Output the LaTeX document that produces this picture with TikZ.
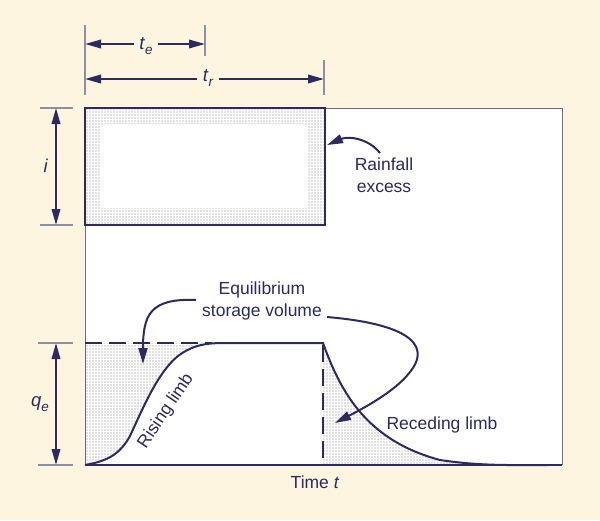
\documentclass[tikz,border=0pt]{standalone}
\usepackage{fontspec}
\setmainfont{Liberation Sans}
\usetikzlibrary{arrows.meta,patterns.meta}
\definecolor{navy}{HTML}{2C2A5E}
\definecolor{tickgray}{HTML}{8F8FA3}
\definecolor{bgcream}{HTML}{FDF5DF}
\definecolor{framecol}{HTML}{66669A}
\definecolor{dotgray}{HTML}{858585}
\newcommand{\subit}[2]{\textit{#1}\raisebox{-0.45ex}{\fontsize{13.5}{13.5}\selectfont\itshape #2}}
\begin{document}
\begin{tikzpicture}[x={(1pt,0)},y={(0,-1pt)},
  lbl/.style={font=\fontsize{17.5}{22}\selectfont, text=navy, inner sep=0pt, align=center},
  mlbl/.style={font=\fontsize{18.5}{22}\selectfont, text=navy, inner sep=0pt},
  tickline/.style={draw=tickgray, line width=1.2pt},
  dimarrow/.style={draw=navy, line width=2pt, -{Triangle[length=16pt,width=8.5pt]}},
  dimboth/.style={draw=navy, line width=2pt, {Triangle[length=16pt,width=8.5pt]}-{Triangle[length=16pt,width=8.5pt]}},
  curvearrow/.style={draw=navy, line width=2pt, -{Triangle[length=16pt,width=9pt]}},
  navyline/.style={draw=navy, line width=2pt},
  dashline/.style={draw=navy, line width=2pt, dash pattern=on 17pt off 7pt},
  stip/.style={pattern={Dots[radius=0.7pt,distance=3pt]}, pattern color=dotgray}]
% background
\fill[bgcream] (0,0) rectangle (600,520);
\useasboundingbox (0,0) rectangle (600,520);
% plot area
\fill[white] (85,108) rectangle (562,465);
\draw[framecol, line width=1pt] (85,465) -- (85,108) -- (562,108) -- (562,465);
% rainfall excess box
\fill[stip, even odd rule] (85,108) rectangle (325,225) (100,124) rectangle (307,208);
\draw[navyline] (85,108) rectangle (325,225);
% stippled storage regions
\fill[stip] (85,343) -- (85,465) .. controls (108,461) and (120,454) .. (130,436)
  .. controls (143,408) and (158,372) .. (178,356) .. controls (193,345) and (205,343) .. (225,343) -- cycle;
\fill[stip] (323,343) .. controls (340,390) and (365,440) .. (440,460)
  .. controls (480,466) and (510,465) .. (547,465) -- (323,465) -- cycle;
% hydrograph
\draw[navyline] (85,465) .. controls (108,461) and (120,454) .. (130,436)
  .. controls (143,408) and (158,372) .. (178,356) .. controls (193,345) and (205,343) .. (225,343)
  -- (323,343) .. controls (340,390) and (365,440) .. (440,460)
  .. controls (480,466) and (510,465) .. (547,465);
\draw[dashline] (85,343) -- (212,343);
\draw[dashline] (323,345) -- (323,465);
\draw[navyline] (85,465) -- (562,465);
% dimension ticks
\draw[tickline] (85,25) -- (85,95);
\draw[tickline] (205,25) -- (205,56);
\draw[tickline] (324,60) -- (324,95);
\draw[tickline] (40,108) -- (73,108);
\draw[tickline] (40,225) -- (73,225);
\draw[tickline] (38,343) -- (73,343);
\draw[tickline] (38,465) -- (73,465);
% t_e
\coordinate (teL) at (85,44);
\coordinate (teR) at (205,44);
\node[mlbl, inner xsep=5.5pt] (te) at (146,46) {\subit{t}{e}};
\draw[dimarrow] (te.west |- teL) -- (teL);
\draw[dimarrow] (te.east |- teR) -- (teR);
% t_r
\coordinate (trL) at (85,79);
\coordinate (trR) at (324,79);
\node[mlbl, inner xsep=6pt] (tr) at (208,78) {\subit{t}{r}};
\draw[dimarrow] (tr.west |- trL) -- (trL);
\draw[dimarrow] (tr.east |- trR) -- (trR);
% i
\coordinate (iT) at (56,108);
\coordinate (iB) at (56,225);
\node[mlbl] (ilab) at (46,166) {\textit{i}};
\draw[dimboth] (iT) -- (iB);
% q_e
\coordinate (qT) at (56,343);
\coordinate (qB) at (56,465);
\node[mlbl] (qlab) at (40,404) {\subit{q}{e}};
\draw[dimboth] (qT) -- (qB);
% labels
\node[lbl] (rain) at (384,175) {Rainfall\\excess};
\node[lbl] (equil) at (262,301) {Equilibrium\\storage volume};
\node[lbl, rotate=56] (rising) at (166,411) {Rising limb};
\node[lbl] (receding) at (442,425) {Receding limb};
\node[lbl] (time) at (315,482) {Time \textit{t}};
% pointer arrows
\coordinate (rainStart) at (380,153);
\coordinate (rainTip) at (327,145);
\coordinate (eqStart) at (196,300);
\coordinate (eqTip) at (143,364);
\coordinate (volStart) at (327,317);
\coordinate (volTip) at (335,423);
\draw[curvearrow] (rainStart) .. controls (368,138) and (348,136) .. (rainTip);
\draw[curvearrow] (eqStart) .. controls (150,298) and (143,315) .. (eqTip);
\draw[curvearrow] (volStart) .. controls (420,325) and (428,350) .. (410,372)
  .. controls (395,392) and (360,410) .. (volTip);
\end{tikzpicture}
\end{document}
